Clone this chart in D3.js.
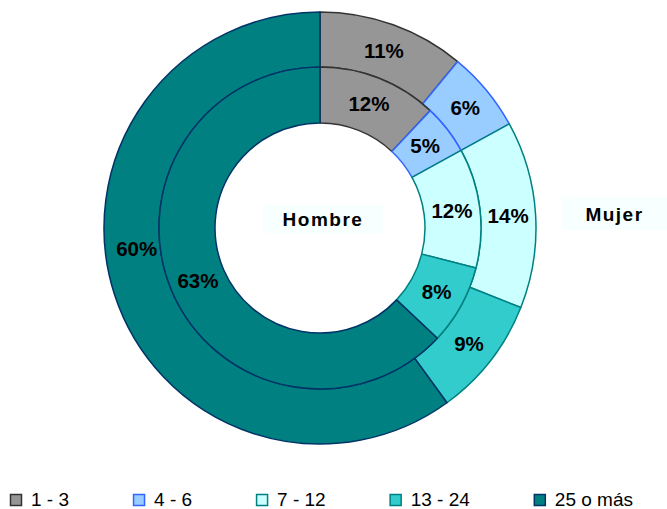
<!DOCTYPE html>
<html>
<head>
<meta charset="utf-8">
<script src="https://cdn.jsdelivr.net/npm/d3@7"></script>
<style>
  body { margin: 0; background: #fff; }
  svg text { font-family: "Liberation Sans", Arial, sans-serif; }
</style>
</head>
<body>
<div id="chart"></div>
<script>
var categories = ["1 - 3", "4 - 6", "7 - 12", "13 - 24", "25 o más"];
var mujer = [11, 6, 14, 9, 60];
var hombre = [12, 5, 12, 8, 63];
var fills = ["#969696", "#99ccff", "#ccffff", "#33cccc", "#008080"];
var strokes = ["#333333", "#3366ff", "#008080", "#008080", "#003366"];

var width = 667, height = 509;
var cx = 320, cy = 228;
var r_outer = 216, r_mid = 161, r_inner = 105;
var PERCENT = function(v){ return v + "%"; };

var svg = d3.select("#chart").append("svg")
  .attr("width", width)
  .attr("height", height);

var pie = d3.pie()
  .sort(null)
  .value(function(d) { return d; });

var outerArc = d3.arc().innerRadius(r_mid).outerRadius(r_outer);
var innerArc = d3.arc().innerRadius(r_inner).outerRadius(r_mid);

var g = svg.append("g").attr("transform", "translate(" + cx + "," + cy + ")");

function ring(values, arc, cls) {
  var slices = g.append("g").attr("class", cls)
    .selectAll("g")
    .data(pie(values))
    .enter().append("g");

  slices.append("path")
    .attr("d", arc)
    .attr("fill", function(d, i) { return fills[i]; })
    .attr("stroke", function(d, i) { return strokes[i]; })
    .attr("stroke-width", 1.5)
    .attr("stroke-linejoin", "round");

  slices.append("text")
    .attr("text-anchor", "middle")
    .attr("dy", 7)
    .attr("font-size", "20.5px")
    .attr("font-weight", "bold")
    .attr("fill", "#000")
    .attr("transform", function(d) {
      var c = arc.centroid(d);
      // Excel nudged the big slice label upward
      if (d.data > 50 && cls == "mujer") {
        var a = (d.startAngle + d.endAngle) / 2 + 0.2;
        var rr = (r_mid + r_outer) / 2 - 4;
        c = [Math.sin(a) * rr, -Math.cos(a) * rr];
      }
      return "translate(" + c[0] + "," + c[1] + ")";
    })
    .text(function(d) { return PERCENT(d.data); });
}

ring(mujer, outerArc, "mujer");
ring(hombre, innerArc, "hombre");

// series names
function seriesLabel(x, y, w, h, txt) {
  svg.append("rect")
    .attr("x", x).attr("y", y)
    .attr("width", w).attr("height", h)
    .attr("fill", "#f7ffff");
  svg.append("text")
    .attr("x", x + w / 2)
    .attr("y", y + h / 2 + 7)
    .attr("text-anchor", "middle")
    .attr("font-size", "19px")
    .attr("font-weight", "bold")
    .attr("letter-spacing", "1.5px")
    .text(txt);
}
seriesLabel(263, 205, 120, 28, "Hombre");
seriesLabel(562, 197, 105, 33, "Mujer");

// legend
var legend = svg.append("g").attr("transform", "translate(0,494)");
var lx = 10;
categories.forEach(function(c, i) {
  var item = legend.append("g").attr("transform", "translate(" + lx + ",0)");
  item.append("rect")
    .attr("x", 0.5).attr("y", 0.5)
    .attr("width", 11).attr("height", 11)
    .attr("fill", fills[i])
    .attr("stroke", strokes[i])
    .attr("stroke-width", 1.5);
  var t = item.append("text")
    .attr("x", 21)
    .attr("y", 12)
    .attr("font-size", "19px")
    .attr("fill", "#000")
    .text(c);
  lx += 21 + t.node().getComputedTextLength() + 64;
});
</script>
</body>
</html>
